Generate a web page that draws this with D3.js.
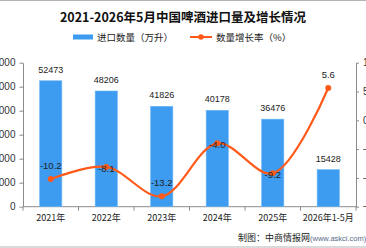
<!DOCTYPE html>
<html>
<head>
<meta charset="utf-8">
<script src="https://cdn.jsdelivr.net/npm/d3@7"></script>
<style>
	body{margin:0;background:#fff;}
	svg text{font-family:"Noto Sans CJK SC","Liberation Sans",sans-serif;}
</style>
</head>
<body>
<div id="chart"></div>
<script>
// data
var years=["2021年","2022年","2023年","2024年","2025年","2026年1-5月"];
var imports=[52473,48206,41826,40178,36476,15428];
var growth=[-10.2,-8.1,-13.2,-4.0,-9.2,5.6];
var leftTicks=[0,10000,20000,30000,40000,50000,60000];
var rightTicks=[-15,-10,-5,0,5,10];

(function(){
	var width=366,height=248;
	var plotLeft=23,plotRight=356,plotTop=62.7,plotBottom=206.7;
	var barColor="#3d9bf0",lineColor="#ff5a1a";
	// label offset for growth labels: above the point, or sitting on it
	var growthDy=[-10,5,-10,5,5,-10];

	var svg=d3.select("#chart").append("svg")
			.attr("width",width)
			.attr("height",height);

	svg.append("rect").attr("width",width).attr("height",height).attr("fill","#fff");
	svg.append("line").attr("x1",0).attr("x2",width).attr("y1",0.5).attr("y2",0.5).attr("stroke","#b4b4b4");
	svg.append("line").attr("x1",0).attr("x2",width).attr("y1",247).attr("y2",247).attr("stroke","#b4b4b4");

	var x=d3.scaleBand().domain(years).range([plotLeft,plotRight]).paddingInner(0.6).paddingOuter(0.3);
	var yL=d3.scaleLinear().domain([0,60000]).range([plotBottom,plotTop]);
	var yR=d3.scaleLinear().domain([-15,10]).range([plotBottom,plotTop]);

	// title
	svg.append("text")
		.attr("x",183).attr("y",22)
		.attr("text-anchor","middle")
		.attr("font-size",12.5).attr("font-weight","bold").attr("fill","#111")
		.text("2021-2026年5月中国啤酒进口量及增长情况");

	// legend
	var lg=svg.append("g").attr("transform","translate(0,37)");
	lg.append("rect").attr("x",73).attr("y",-2.5).attr("width",20).attr("height",5).attr("fill",barColor);
	lg.append("text").attr("x",97).attr("y",3.5).attr("font-size",9.5).attr("fill","#222").text("进口数量（万升）");
	lg.append("line").attr("x1",190).attr("x2",212).attr("y1",0).attr("y2",0).attr("stroke",lineColor).attr("stroke-width",2);
	lg.append("circle").attr("cx",201).attr("cy",0).attr("r",2.8).attr("fill",lineColor);
	lg.append("text").attr("x",216).attr("y",3.5).attr("font-size",9.5).attr("fill","#222").text("数量增长率（%）");

	// left axis
	var axL=d3.axisLeft(yL).tickValues(leftTicks).tickSize(3.5).tickSizeOuter(0).tickPadding(4);
	var gL=svg.append("g").attr("transform","translate("+plotLeft+",0)").call(axL);
	gL.select(".domain").attr("stroke","#8c8c8c");
	gL.selectAll(".tick line").attr("stroke","#8c8c8c");
	gL.selectAll(".tick text").attr("font-size",10).attr("fill","#333").style("font-family","Liberation Sans");

	// right axis
	var axR=d3.axisRight(yR).tickValues(rightTicks).tickSize(3).tickSizeOuter(0).tickPadding(4);
	var gR=svg.append("g").attr("transform","translate("+plotRight+",0)").call(axR);
	gR.select(".domain").attr("stroke","#8c8c8c");
	gR.selectAll(".tick line").attr("stroke","#8c8c8c");
	gR.selectAll(".tick text").attr("font-size",10).attr("fill","#333").style("font-family","Liberation Sans");

	// x axis
	var gap=(x.step()-x.bandwidth())/2;
	var bounds=years.map(function(d){return x(d)-gap;}).concat([plotRight]);
	svg.append("line").attr("x1",plotLeft).attr("x2",plotRight).attr("y1",plotBottom).attr("y2",plotBottom).attr("stroke","#8c8c8c");
	svg.append("g").selectAll("line").data(bounds).enter().append("line")
		.attr("x1",function(d){return d;}).attr("x2",function(d){return d;})
		.attr("y1",plotBottom).attr("y2",plotBottom+4)
		.attr("stroke","#8c8c8c");
	svg.append("g").selectAll("text").data(years).enter().append("text")
		.attr("x",function(d){return x(d)+x.bandwidth()/2;})
		.attr("y",221)
		.attr("text-anchor","middle")
		.attr("font-size",9).attr("fill","#222")
		.text(function(d){return d;});

	// bars
	svg.append("g").selectAll("rect").data(imports).enter().append("rect")
		.attr("x",function(d,i){return x(years[i]);})
		.attr("y",function(d){return yL(d);})
		.attr("width",x.bandwidth())
		.attr("height",function(d){return plotBottom-yL(d);})
		.attr("fill",barColor)
		.attr("stroke","#6cb6f5").attr("stroke-width",0.6);
	svg.append("g").selectAll("text").data(imports).enter().append("text")
		.attr("x",function(d,i){return x(years[i])+x.bandwidth()/2;})
		.attr("y",function(d){return yL(d)-8;})
		.attr("text-anchor","middle")
		.attr("font-size",9).attr("fill","#222").style("font-family","Liberation Sans")
		.text(function(d){return d;});

	// growth line
	var cx=function(d,i){return x(years[i])+x.bandwidth()/2;};
	var line=d3.line().x(cx).y(function(d){return yR(d);}).curve(d3.curveCatmullRom.alpha(0.5));
	svg.append("path").datum(growth)
		.attr("d",line)
		.attr("fill","none").attr("stroke",lineColor).attr("stroke-width",2.2);
	svg.append("g").selectAll("circle").data(growth).enter().append("circle")
		.attr("cx",cx).attr("cy",function(d){return yR(d);})
		.attr("r",3).attr("fill",lineColor);
	svg.append("g").selectAll("text").data(growth).enter().append("text")
		.attr("x",cx)
		.attr("y",function(d,i){return yR(d)+growthDy[i];})
		.attr("text-anchor","middle")
		.attr("font-size",9.5).attr("fill","#222").style("font-family","Liberation Sans")
		.text(function(d){return d.toFixed(1);});

	// source
	var src=svg.append("text").attr("x",238).attr("y",241).attr("font-size",9).attr("fill","#222");
	src.append("tspan").text("制图：中商情报网");
	src.append("tspan").attr("font-size",7.5).attr("fill","#5a6a8a").style("font-family","Liberation Sans").text("(www.askci.com)");
})();
</script>
</body>
</html>
